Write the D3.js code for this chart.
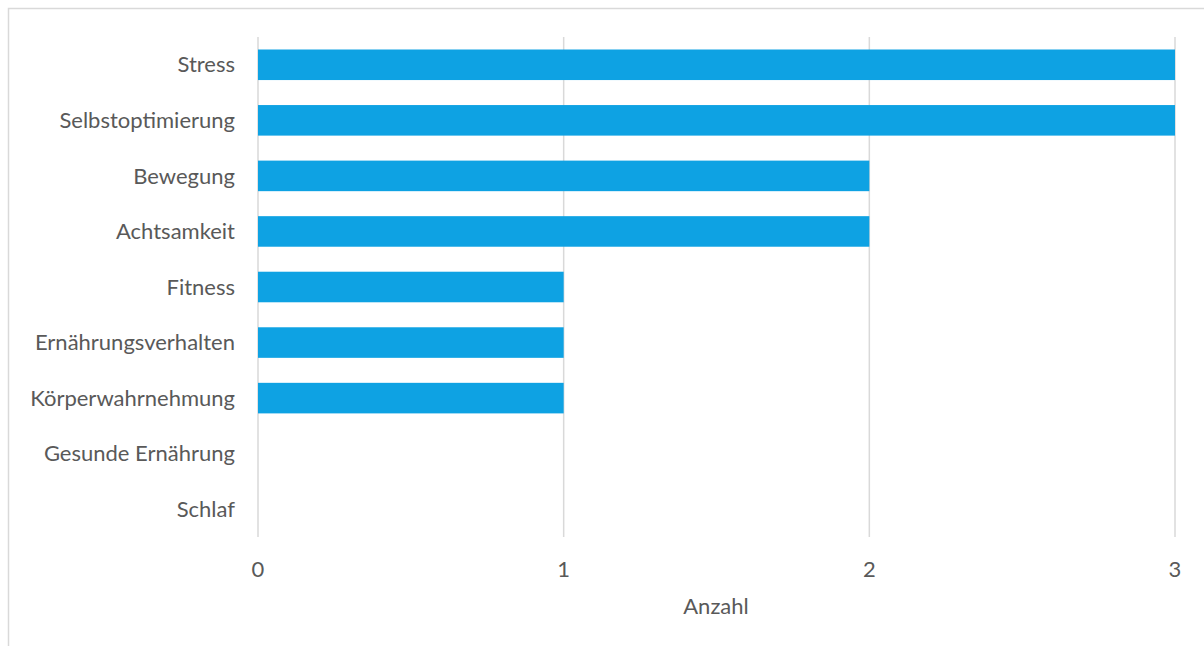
<!DOCTYPE html>
<html><head><meta charset="utf-8">
<script src="https://cdn.jsdelivr.net/npm/d3@7"></script>
<style>html,body{margin:0;padding:0;background:#fff;overflow:hidden}</style>
</head><body>
<svg id="c" width="1204" height="646"></svg>
<script>
const categories = ["Stress","Selbstoptimierung","Bewegung","Achtsamkeit","Fitness","Ernährungsverhalten","Körperwahrnehmung","Gesunde Ernährung","Schlaf"];
const values = [3,3,2,2,1,1,1,0,0];
const xTicks = [0,1,2,3];
const xTitle = "Anzahl";

(function(){
const svg = d3.select("#c");
const font = "Lato, sans-serif";
const fs = "22px";
const txt = "#595959";
svg.append("rect").attr("x",8.5).attr("y",8.5).attr("width",1300).attr("height",700)
  .attr("fill","#fff").attr("stroke","#d9d9d9").attr("stroke-width",1.5);

const pLeft=258, pRight=1175, pTop=37, pBottom=537;
const x = d3.scaleLinear().domain([0,3]).range([pLeft,pRight]);
const y = d3.scaleBand().domain(categories).range([pTop,pBottom]).paddingInner(0.45).paddingOuter(0.225);

svg.append("g").selectAll("line").data(xTicks).join("line")
  .attr("x1",d=>x(d)).attr("x2",d=>x(d)).attr("y1",pTop).attr("y2",pBottom)
  .attr("stroke","#d9d9d9").attr("stroke-width",1.5);

svg.append("g").selectAll("rect").data(categories).join("rect")
  .attr("x",x(0)).attr("y",d=>y(d)).attr("height",y.bandwidth())
  .attr("width",(d,i)=>x(values[i])-x(0)).attr("fill","#0EA2E3");

svg.append("g").selectAll("text").data(categories).join("text")
  .attr("x",235).attr("y",d=>y(d)+y.bandwidth()/2).attr("dy","0.35em")
  .attr("text-anchor","end").attr("fill",txt).style("font-family",font).style("font-size",fs)
  .text(d=>d);

svg.append("g").selectAll("text").data(xTicks).join("text")
  .attr("x",d=>x(d)).attr("y",569).attr("dy","0.35em")
  .attr("text-anchor","middle").attr("fill",txt).style("font-family",font).style("font-size",fs)
  .text(d=>d);

svg.append("text").attr("x",716).attr("y",606).attr("dy","0.35em").attr("text-anchor","middle")
  .attr("fill",txt).style("font-family",font).style("font-size",fs).text(xTitle);
})();
</script>
</body></html>
